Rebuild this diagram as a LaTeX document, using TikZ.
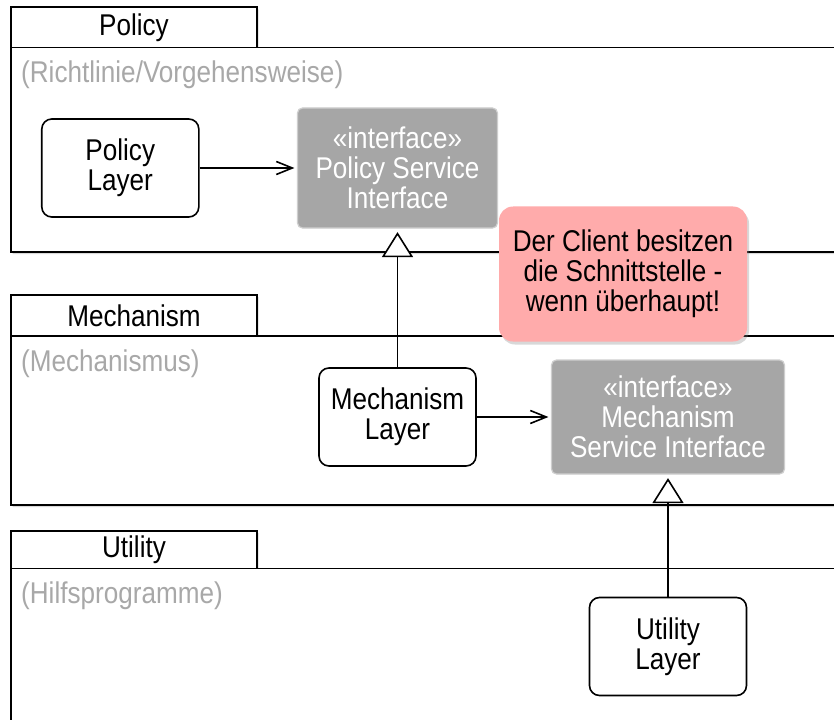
\documentclass[tikz,border=0pt]{standalone}
\usepackage{fontspec}
\setmainfont{Liberation Sans}[FakeStretch=0.87]
\usetikzlibrary{arrows.meta, shadows}

\definecolor{ifacegray}{RGB}{166,166,166}
\definecolor{ifaceline}{RGB}{206,206,206}
\definecolor{hintgray}{RGB}{168,168,168}
\definecolor{notepink}{RGB}{255,171,171}

\tikzset{
    txt/.style={font=\fontsize{30bp}{30bp}\selectfont},
    pkgframe/.style={draw, fill=white, line width=1.6bp,
        drop shadow={shadow xshift=1.5bp, shadow yshift=-2bp, opacity=0.3}},
    pkgline/.style={line width=1.6bp},
    pkgtitle/.style={txt, inner sep=0pt},
    pkghint/.style={txt, text=hintgray, inner sep=0pt},
    layerbox/.style={txt, draw, fill=white, line width=1.6bp, rounded corners=10bp,
        align=center, minimum width=157bp, minimum height=98bp, inner sep=0pt},
    ifacebox/.style={txt, draw=ifaceline, fill=ifacegray, text=white, line width=1.2bp,
        rounded corners=5bp, align=center, inner sep=0pt},
    notebox/.style={txt, fill=notepink, rounded corners=14bp, align=center,
        minimum width=248bp, minimum height=135bp, inner sep=0pt,
        drop shadow={shadow xshift=2bp, shadow yshift=-3bp, opacity=0.3}},
    uses/.style={line width=1.6bp, -{Straight Barb[length=16bp, width=13bp]}, shorten >=2.5bp},
    realizes/.style={line width=1.6bp, -{Triangle[length=25bp, width=31bp, fill=white]}, shorten >=3.5bp}
}

\begin{document}
\begin{tikzpicture}[x=1bp, y=-1bp]
    \useasboundingbox (0,0) rectangle (834,720);
    % packages
    \foreach \n/\ytop/\ytab/\yend/\nm/\hnt in {%
            pol/7.3/47.7/252/Policy/{(Richtlinie/Vorgehensweise)},%
            mech/295/336/505/Mechanism/{(Mechanismus)},%
            util/531/568.5/780/Utility/{(Hilfsprogramme)}}{%
            \draw[pkgframe] (11,\ytop) -- (257,\ytop) -- (257,\ytab) -- (870,\ytab)
                -- (870,\yend) -- (11,\yend) -- cycle;
            \draw[pkgline] (11,\ytab) -- (257,\ytab);
            \node[pkgtitle] (\n) at (134,{(\ytop+\ytab)/2}) {\nm};
            \node[pkghint, anchor=base west] (\n hint) at (21,\ytab+35) {\hnt};
        }

    % classes
    \node[layerbox] (pollayer) at (120.3,168) {Policy\\Layer};
    \node[ifacebox, minimum width=200bp, minimum height=120bp] (polsvc) at (397.5,168)
        {«interface»\\Policy Service\\Interface};
    \node[layerbox] (mechlayer) at (397.5,417) {Mechanism\\Layer};
    \node[ifacebox, minimum width=233bp, minimum height=114bp] (mechsvc) at (668,417)
        {«interface»\\Mechanism\\Service Interface};
    \node[layerbox] (utillayer) at (668,646.5) {Utility\\Layer};

    \draw[uses] (pollayer) -- (polsvc);
    \draw[uses] (mechlayer) -- (mechsvc);
    \draw[realizes] (mechlayer) -- (polsvc);
    \draw[realizes] (utillayer) -- (mechsvc);

    \node[notebox] (remark) at (623,274) {Der Client besitzen\\die Schnittstelle -\\wenn überhaupt!};
\end{tikzpicture}
\end{document}
